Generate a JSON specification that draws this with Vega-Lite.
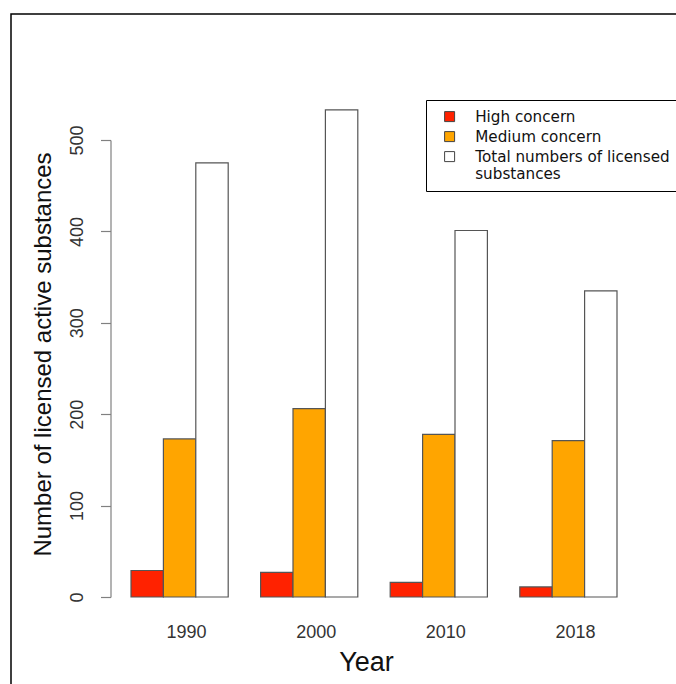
{
  "$schema": "https://vega.github.io/schema/vega-lite/v6.json",
  "autosize": {"type": "none"},
  "padding": {"left": 11, "top": 14, "right": -20, "bottom": -20},
  "width": 685,
  "height": 690,
  "background": "white",
  "config": {
    "view": {"stroke": "black", "strokeWidth": 1.5},
    "font": "Liberation Sans"
  },
  "data": {
    "values": [
      {"year": "1990", "category": "High concern", "value": 29},
      {"year": "1990", "category": "Medium concern", "value": 173},
      {"year": "1990", "category": "Total numbers of licensed substances", "value": 475},
      {"year": "2000", "category": "High concern", "value": 27},
      {"year": "2000", "category": "Medium concern", "value": 206},
      {"year": "2000", "category": "Total numbers of licensed substances", "value": 533},
      {"year": "2010", "category": "High concern", "value": 16},
      {"year": "2010", "category": "Medium concern", "value": 178},
      {"year": "2010", "category": "Total numbers of licensed substances", "value": 401},
      {"year": "2018", "category": "High concern", "value": 11},
      {"year": "2018", "category": "Medium concern", "value": 171},
      {"year": "2018", "category": "Total numbers of licensed substances", "value": 335}
    ]
  },
  "mark": {"type": "bar", "stroke": "#555555", "strokeWidth": 1.2},
  "encoding": {
    "x": {
      "field": "year",
      "type": "nominal",
      "scale": {"range": [120, 606], "paddingInner": 0.25, "paddingOuter": 0},
      "axis": {
        "offset": -107,
        "ticks": false,
        "domain": false,
        "labelAngle": 0,
        "labelFontSize": 18,
        "labelColor": "#333333",
        "labelPadding": 26,
        "labelOffset": 7,
        "title": "Year",
        "titleFontSize": 27,
        "titleFontWeight": "normal",
        "titleColor": "#111111",
        "titlePadding": 8,
        "titleX": 355
      }
    },
    "xOffset": {
      "field": "category",
      "type": "nominal",
      "sort": ["High concern", "Medium concern", "Total numbers of licensed substances"],
      "scale": {"paddingInner": 0, "paddingOuter": 0}
    },
    "y": {
      "field": "value",
      "type": "quantitative",
      "scale": {"domain": [0, 500], "range": [583, 126], "nice": false, "zero": true},
      "axis": {
        "offset": -99.5,
        "values": [0, 100, 200, 300, 400, 500],
        "grid": false,
        "domainColor": "#808080",
        "domainWidth": 1.2,
        "tickColor": "#808080",
        "tickWidth": 1.2,
        "tickSize": 10,
        "labelAngle": -90,
        "labelAlign": "center",
        "labelBaseline": "bottom",
        "labelFontSize": 18,
        "labelColor": "#333333",
        "labelPadding": 14,
        "title": "Number of licensed active substances",
        "titleFontSize": 24,
        "titleFontWeight": "normal",
        "titleColor": "#111111",
        "titlePadding": 13,
        "titleY": 340
      }
    },
    "color": {
      "field": "category",
      "type": "nominal",
      "scale": {
        "domain": ["High concern", "Medium concern", "Total numbers of licensed substances"],
        "range": ["#ff2200", "#ffa500", "#ffffff"]
      },
      "legend": {
        "title": null,
        "orient": "none",
        "legendX": 415,
        "legendY": 86,
        "symbolType": "square",
        "symbolSize": 100,
        "symbolStrokeColor": "#444444",
        "symbolStrokeWidth": 1,
        "symbolOpacity": 1,
        "symbolOffset": 7,
        "labelFont": "DejaVu Sans",
        "labelFontSize": 15.2,
        "labelColor": "#111111",
        "labelLimit": 500,
        "labelOffset": 18,
        "padding": 9,
        "rowPadding": 4,
        "strokeColor": "black",
        "labelExpr": "datum.label == 'Total numbers of licensed substances' ? ['Total numbers of licensed', '\u00a0substances'] : datum.label"
      }
    }
  }
}
